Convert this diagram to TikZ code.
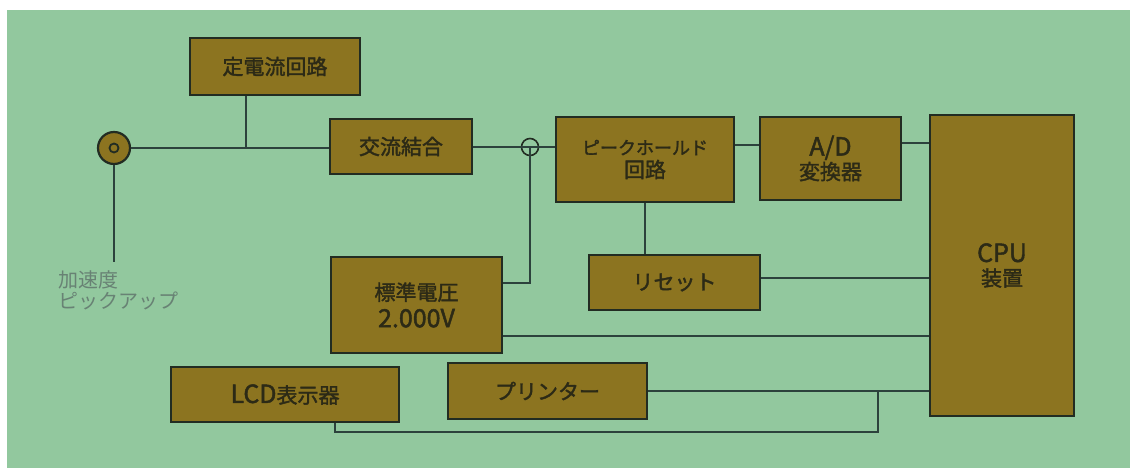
\documentclass[tikz,border=0pt]{standalone}
\usepackage{fontspec}
\newfontfamily\cjk[FakeBold=1.8]{Noto Sans CJK JP}
\newfontfamily\cjklight{Noto Sans CJK JP}
\definecolor{bg}{RGB}{146,200,158}
\definecolor{boxfill}{RGB}{140,116,32}
\definecolor{boxline}{RGB}{34,44,34}
\definecolor{wire}{RGB}{44,66,60}
\definecolor{boxtext}{RGB}{44,42,22}
\definecolor{labeltext}{RGB}{104,130,116}
\tikzset{
  x=1pt, y=-1pt,
  blk/.style={draw=boxline, line width=2.2pt, fill=boxfill, text=boxtext,
    inner sep=0pt, align=center, font=\cjk\fontsize{21}{23}\selectfont},
  wireline/.style={draw=wire, line width=1.6pt},
}
\newcommand{\latinbig}[1]{{\fontsize{25}{23}\selectfont #1}}
\begin{document}
\begin{tikzpicture}
\fill[white] (0,0) rectangle (1130,468);
\fill[bg] (7,10) rectangle (1130,468);
\useasboundingbox (0,0) rectangle (1130,468);

% blocks
\node[blk, minimum width=170pt, minimum height=57pt] (teiden) at (275,66.5) {定電流回路};
\node[blk, minimum width=142pt, minimum height=55pt] (kouryu) at (401,146.5) {交流結合};
\node[blk, minimum width=178pt, minimum height=85pt] (peak) at (645,159.5)
  {{\fontsize{18}{22}\selectfont ピークホールド}\\回路};
\node[blk, minimum width=141pt, minimum height=83pt] (ad) at (830.5,158.5) {\latinbig{A/D}\\[1pt]変換器};
\node[blk, minimum width=144pt, minimum height=301pt] (cpu) at (1002,265.5) {\latinbig{CPU}\\[1pt]装置};
\node[blk, minimum width=171pt, minimum height=55pt] (reset) at (674.5,282.5) {リセット};
\node[blk, minimum width=171pt, minimum height=96pt] (std) at (416.5,305) {標準電圧\\[4pt]\latinbig{2.000V}};
\node[blk, minimum width=228pt, minimum height=55pt] (lcd) at (285,394.5) {\latinbig{LCD}表示器};
\node[blk, minimum width=199pt, minimum height=56pt] (printer) at (547.5,391) {プリンター};

% pickup
\node[circle, draw=boxline, line width=2.2pt, fill=boxfill, minimum size=32pt, inner sep=0pt] (pu) at (114,148) {};
\node[circle, draw=boxline, line width=1.8pt, fill=boxfill, minimum size=9pt, inner sep=0pt] (puin) at (114,148) {};
\coordinate (puend) at (114,262);
\node[anchor=north west, align=left, text=labeltext, inner sep=0pt,
  font=\cjklight\fontsize{20}{21}\selectfont] (lbl) at (58,270) {加速度\\ピックアップ};

% small junction circle
\node[circle, draw=boxline, line width=1.6pt, minimum size=17pt, inner sep=0pt] (sc) at (530,147) {};

% connectors
\coordinate (j1) at (246,148);
\draw[wireline] (pu.east) -- (pu.east -| kouryu.west);
\draw[wireline] (j1 |- teiden.south) -- (j1);
\draw[wireline] (pu.south) -- (puend);
\draw[wireline] ([yshift=-0.5pt]kouryu.east) -- ([yshift=-0.5pt]kouryu.east -| peak.west);
\draw[wireline] (sc.center) |- ([yshift=22pt]std.east);
\draw[wireline] ([yshift=14.5pt]peak.east) -- ([yshift=14.5pt]peak.east -| ad.west);
\draw[wireline] ([yshift=15.5pt]ad.east) -- ([yshift=15.5pt]ad.east -| cpu.west);
\draw[wireline] (peak.south) -- (peak.south |- reset.north);
\draw[wireline] ([yshift=4.5pt]reset.east) -- ([yshift=4.5pt]reset.east -| cpu.west);
\draw[wireline] ([yshift=-31pt]std.east) -- ([yshift=-31pt]std.east -| cpu.west);
\draw[wireline] (printer.east) -- (printer.east -| cpu.west);
\coordinate (j3) at (878,391);
\coordinate (j4) at (878,432);
\draw[wireline] ([xshift=50pt]lcd.south) |- (j4) -- (j3);
\end{tikzpicture}
\end{document}
